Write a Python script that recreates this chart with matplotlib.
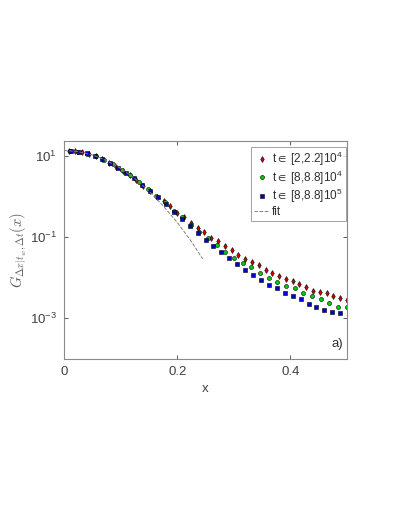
import numpy as np
import matplotlib
matplotlib.use("Agg")
import matplotlib.pyplot as plt

plt.rcParams['font.family'] = ['Liberation Sans', 'DejaVu Sans']
plt.rcParams['mathtext.fontset'] = 'custom'
plt.rcParams['mathtext.rm'] = 'Liberation Sans'
plt.rcParams['mathtext.it'] = 'Liberation Sans:italic'
plt.rcParams['mathtext.sf'] = 'Liberation Sans'
plt.rcParams['mathtext.fallback'] = 'stixsans'

# data (y stored as log10 values)
x_red = [0.008, 0.020, 0.032, 0.044, 0.056, 0.068, 0.080, 0.092, 0.104, 0.116,
         0.128, 0.140, 0.152, 0.164, 0.176, 0.188, 0.200, 0.212, 0.224, 0.236,
         0.248, 0.260, 0.272, 0.284, 0.296, 0.308, 0.320, 0.332, 0.344, 0.356,
         0.368, 0.380, 0.392, 0.404, 0.416, 0.428, 0.440, 0.452, 0.464, 0.476,
         0.488, 0.500]
logy_red = [1.12, 1.11, 1.08, 1.04, 0.98, 0.91, 0.83, 0.73, 0.63, 0.52,
            0.39, 0.26, 0.12, -0.02, -0.12, -0.24, -0.40, -0.52, -0.65, -0.77,
            -0.88, -1.02, -1.10, -1.22, -1.33, -1.45, -1.54, -1.62, -1.69, -1.81,
            -1.88, -1.96, -2.04, -2.09, -2.16, -2.24, -2.33, -2.35, -2.38, -2.46,
            -2.51, -2.56]

x_green = [0.010, 0.025, 0.041, 0.056, 0.071, 0.086, 0.102, 0.117, 0.132, 0.148,
           0.163, 0.178, 0.194, 0.209, 0.224, 0.239, 0.255, 0.270, 0.285, 0.301,
           0.316, 0.331, 0.347, 0.362, 0.377, 0.392, 0.408, 0.423, 0.438, 0.454,
           0.469, 0.484, 0.500]
logy_green = [1.12, 1.10, 1.05, 0.98, 0.90, 0.79, 0.66, 0.52, 0.36, 0.18,
              0.01, -0.14, -0.36, -0.52, -0.70, -0.88, -1.03, -1.20, -1.36, -1.52,
              -1.64, -1.75, -1.88, -2.00, -2.10, -2.21, -2.25, -2.37, -2.46, -2.52,
              -2.62, -2.71, -2.73]

x_blue = [0.012, 0.026, 0.040, 0.054, 0.068, 0.082, 0.096, 0.110, 0.124, 0.138,
          0.152, 0.166, 0.180, 0.194, 0.208, 0.222, 0.236, 0.250, 0.264, 0.278,
          0.292, 0.306, 0.320, 0.334, 0.348, 0.362, 0.376, 0.390, 0.404, 0.418,
          0.432, 0.446, 0.460, 0.474, 0.488]
logy_blue = [1.12, 1.10, 1.06, 0.99, 0.91, 0.81, 0.70, 0.58, 0.44, 0.29,
             0.13, -0.02, -0.20, -0.38, -0.55, -0.72, -0.89, -1.07, -1.22, -1.38,
             -1.52, -1.66, -1.82, -1.94, -2.05, -2.18, -2.26, -2.38, -2.46, -2.53,
             -2.65, -2.71, -2.79, -2.85, -2.87]

x_fit = [0.0, 0.025, 0.05, 0.075, 0.1, 0.125, 0.15, 0.175, 0.2, 0.225, 0.245]
logy_fit = [1.13, 1.10, 1.02, 0.88, 0.69, 0.44, 0.13, -0.23, -0.64, -1.11, -1.54]

labels = [r't${\in}$ [2,2.2]10$^4$', r't${\in}$ [8,8.8]10$^4$', r't${\in}$ [8,8.8]10$^5$', 'fit']

fig = plt.figure(figsize=(3.99, 5.16), dpi=100)
ax = fig.add_axes([0.1604, 0.3043, 0.7093, 0.4225])

ax.plot(x_red, 10 ** np.array(logy_red), 'd', color='#d00000', mec='black', mew=0.4, ms=3.0, label=labels[0])
ax.plot(x_green, 10 ** np.array(logy_green), 'o', color='#00cc00', mec='black', mew=0.4, ms=2.9, label=labels[1])
ax.plot(x_blue, 10 ** np.array(logy_blue), 's', color='#0000c8', mec='black', mew=0.4, ms=2.6, label=labels[2])
ax.plot(x_fit, 10 ** np.array(logy_fit), '--', color='#808080', lw=0.7, label=labels[3])

ax.set_yscale('log')
ax.set_xlim(0, 0.5)
ax.set_ylim(1e-4, 23)
ax.set_xticks([0, 0.2, 0.4])
ax.set_xticklabels(['0', '0.2', '0.4'])
ax.set_yticks([1e1, 1e-1, 1e-3])
ax.set_yticklabels(['10$^{1}$', '10$^{-1}$', '10$^{-3}$'])
ax.minorticks_off()
ax.tick_params(direction='in', top=True, right=True, length=3, width=0.6,
               labelsize=9.5, colors='#404040', pad=5)
for sp in ax.spines.values():
    sp.set_color('#8a8a8a')
    sp.set_linewidth(0.8)

ax.set_xlabel('x', fontsize=9.5, color='#404040')
ax.set_ylabel(r'$G_{\Delta x|t_w,\Delta t}(x)$', fontsize=10.5, color='#606060',
              labelpad=1, math_fontfamily='cm')
ax.text(0.985, 0.04, 'a)', transform=ax.transAxes, ha='right', va='bottom', fontsize=9.5, color='#303030')

leg = ax.legend(loc='upper right', bbox_to_anchor=(0.996, 0.974), fontsize=8.5,
                frameon=True, fancybox=False, edgecolor='#8a8a8a', borderpad=0.25,
                handlelength=1.2, handletextpad=0.3, labelspacing=0.05, borderaxespad=0)
leg.get_frame().set_linewidth(0.7)
for t in leg.get_texts():
    t.set_color('#303030')

fig.savefig('out.png', dpi=100)
